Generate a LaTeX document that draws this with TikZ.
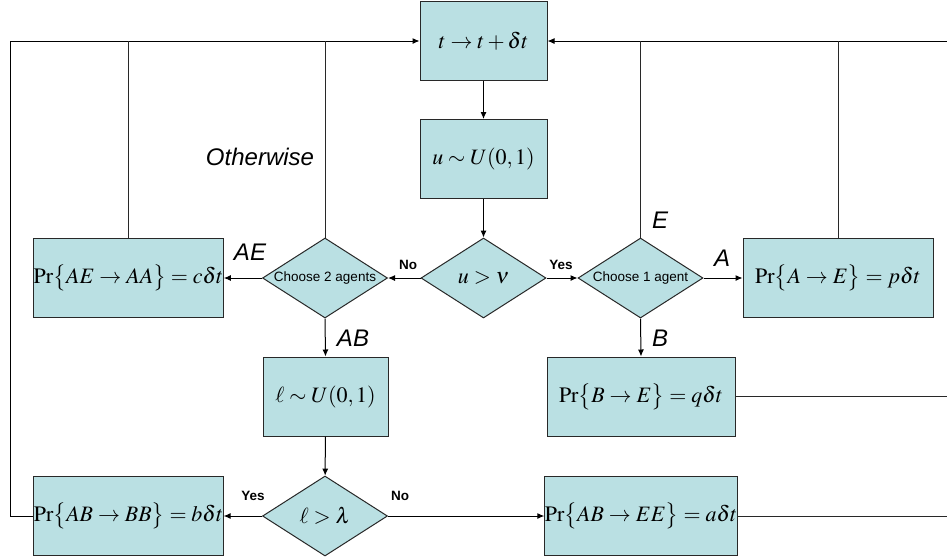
\documentclass[tikz,border=0pt]{standalone}
\usepackage{mathptmx}
\usepackage{fontspec}
\setmainfont{Liberation Serif}
\setsansfont{Liberation Sans}
\usetikzlibrary{shapes.geometric,arrows.meta}
\definecolor{boxfill}{RGB}{186,224,227}
\definecolor{edgec}{RGB}{40,40,40}
\begin{document}
\begin{tikzpicture}[x=1pt,y=-1pt,
  box/.style={draw=edgec, line width=1pt, fill=boxfill, minimum height=79pt, inner sep=0pt,
    font=\fontsize{22}{26}\selectfont},
  dia/.style={diamond, draw=edgec, line width=1pt, fill=boxfill, minimum width=125pt,
    minimum height=80pt, inner sep=0pt, font=\fontsize{22}{26}\selectfont},
  chtext/.style={font=\sffamily\fontsize{13.5}{16}\selectfont},
  lab/.style={font=\sffamily\itshape\fontsize{24}{28}\selectfont, inner sep=0pt},
  yn/.style={font=\sffamily\bfseries\fontsize{13.5}{16}\selectfont, inner sep=0pt},
  arr/.style={-{Latex[length=7pt,width=6pt]}, line width=1pt, draw=black},
  ln/.style={line width=1pt, draw=edgec}
]
\useasboundingbox (0,0) rectangle (947,558);

\node[box, minimum width=127pt] (t) at (483.5,41) {$t\to t+\delta t$};
\node[box, minimum width=127pt] (u) at (483.5,159) {$u\sim U(0,1)$};
\node[dia] (uv) at (483.5,278) {\makebox[0pt]{$u>\nu$}};
\node[dia, chtext] (c2) at (325,278) {\makebox[0pt]{Choose 2 agents}};
\node[dia, chtext] (c1) at (640.5,278) {\makebox[0pt]{Choose 1 agent}};
\node[box, minimum width=189pt] (AE) at (128.5,278) {$\mathrm{Pr}\bigl\{AE\to AA\bigr\}=c\delta t$};
\node[box, minimum width=190pt] (A) at (838,278) {$\mathrm{Pr}\bigl\{A\to E\bigr\}=p\delta t$};
\node[box, minimum width=125pt] (l) at (325.5,396.5) {$\ell\sim U(0,1)$};
\node[box, minimum width=188pt] (B) at (641,396.5) {$\mathrm{Pr}\bigl\{B\to E\bigr\}=q\delta t$};
\node[dia] (lam) at (325,516) {\makebox[0pt]{$\ell>\lambda$}};
\node[box, minimum width=189pt] (BB) at (128.5,516) {$\mathrm{Pr}\bigl\{AB\to BB\bigr\}=b\delta t$};
\node[box, minimum width=188pt] (EE) at (641,516) {$\mathrm{Pr}\bigl\{AB\to EE\bigr\}=a\delta t$};

\node[lab] (oth) at (260,157) {Otherwise};
\node[lab] (lAE) at (250,252) {AE};
\node[lab] (lAB) at (353,338) {AB};
\node[lab] (lE) at (660,220) {E};
\node[lab] (lA) at (722,258) {A};
\node[lab] (lB) at (660,338) {B};
\node[yn] (no1) at (408,265) {No};
\node[yn] (yes1) at (561,265) {Yes};
\node[yn] (yes2) at (253,496) {Yes};
\node[yn] (no2) at (400,496) {No};

\coordinate (L) at (10,41);
\coordinate (R) at (947,41);

\draw[arr] (t) -- (u);
\draw[arr] (u) -- (uv);
\draw[arr] (uv.west) -- (c2.east);
\draw[arr] (uv.east) -- (c1.west);
\draw[arr] (c2.west) -- (AE.east);
\draw[arr] (c2.south) -- (l.north);
\draw[arr] (c1.east) -- (A.west);
\draw[arr] (c1.south) -- (B.north);
\draw[arr] (l) -- (lam);
\draw[arr] (lam.west) -- (BB.east);
\draw[arr] (lam.east) -- (EE.west);

\draw[arr] (BB.west) -| (L) -- (t.west);
\draw[ln] (AE.north) -- (AE.north |- L);
\draw[ln] (c2.north) -- (c2.north |- L);
\draw[arr] (R) -- (t.east);
\draw[ln] (c1.north) -- (c1.north |- R);
\draw[ln] (A.north) -- (A.north |- R);
\draw[ln] (B.east) -- (B.east -| R);
\draw[ln] (EE.east) -- (EE.east -| R);
\end{tikzpicture}
\end{document}
